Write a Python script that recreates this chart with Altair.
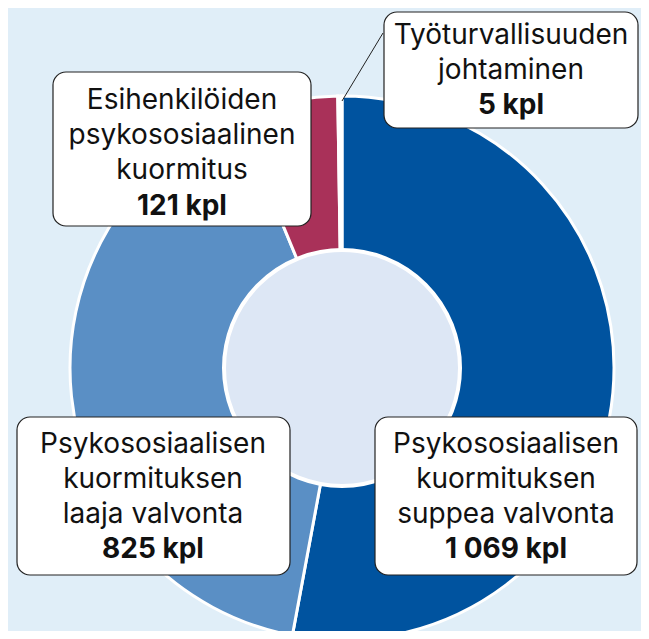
import altair as alt
import pandas as pd

# ---- data ----
categories = [
    "Psykososiaalisen kuormituksen suppea valvonta",
    "Psykososiaalisen kuormituksen laaja valvonta",
    "Esihenkilöiden psykososiaalinen kuormitus",
    "Työturvallisuuden johtaminen",
]
label_lines = [
    "Psykososiaalisen\nkuormituksen\nsuppea valvonta",
    "Psykososiaalisen\nkuormituksen\nlaaja valvonta",
    "Esihenkilöiden\npsykososiaalinen\nkuormitus",
    "Työturvallisuuden\njohtaminen",
]
values = [1069, 825, 121, 5]

# ---- styling / layout ----
colors = ["#00539f", "#5a8fc5", "#a93159", "#ffffff"]
BG = "#e0eef8"
HOLE = "#dde7f5"
OFF = 8  # page margin
CX, CY = 342, 368
R_OUT, R_IN = 272, 118
FONT = "Inter"
FS = 28

# label box layout (image pixel coords)
box_x0 = [375, 17, 53, 384]
box_x1 = [637, 290, 311, 638]
box_y0 = [417, 417, 72, 12]
box_y1 = [575, 575, 226, 128]
txt_x = [506, 153, 182, 511]
txt_y = [453, 453, 109, 44]
bold_y = [558, 558, 215, 114]


def fmt(v):
    return f"{v:,}".replace(",", " ") + " kpl"


df = pd.DataFrame({
    "cat": categories,
    "value": values,
    "order": list(range(len(values))),
    "color": colors,
})

lab = pd.DataFrame({
    "x0": [v - OFF for v in box_x0],
    "x1": [v - OFF for v in box_x1],
    "y0": [v - OFF for v in box_y0],
    "y1": [v - OFF for v in box_y1],
    "tx": [v - OFF for v in txt_x],
    "ty": [v - OFF for v in txt_y],
    "by": [v - OFF for v in bold_y],
    "text": label_lines,
    "bold": [fmt(v) for v in values],
})

leader = pd.DataFrame({"x": [383 - OFF], "y": [33 - OFF], "x2": [342 - OFF], "y2": [101 - OFF]})

arcs = alt.Chart(df).mark_arc(
    outerRadius=R_OUT, innerRadius=0, stroke="white", strokeWidth=3
).encode(
    theta=alt.Theta("value:Q", stack=True),
    order=alt.Order("order:Q"),
    color=alt.Color("color:N", scale=None),
    x=alt.value(CX - OFF),
    y=alt.value(CY - OFF),
)

hole = alt.Chart(pd.DataFrame({"a": [0]})).mark_arc(
    theta=0, theta2=6.2832, outerRadius=R_IN, innerRadius=0,
    fill=HOLE, stroke="white", strokeWidth=4,
).encode(x=alt.value(CX - OFF), y=alt.value(CY - OFF))

rule = alt.Chart(leader).mark_rule(color="#222222", strokeWidth=1).encode(
    x=alt.X("x:Q", scale=None), y=alt.Y("y:Q", scale=None),
    x2="x2:Q", y2="y2:Q",
)

boxes = alt.Chart(lab).mark_rect(
    fill="white", stroke="#222222", strokeWidth=1.2, cornerRadius=13
).encode(
    x=alt.X("x0:Q", scale=None), x2="x1:Q",
    y=alt.Y("y0:Q", scale=None), y2="y1:Q",
)

texts = alt.Chart(lab).mark_text(
    font=FONT, fontSize=FS, lineHeight=35, lineBreak="\n",
    align="center", baseline="alphabetic", color="#111111",
).encode(
    x=alt.X("tx:Q", scale=None), y=alt.Y("ty:Q", scale=None), text="text:N",
)

bolds = alt.Chart(lab).mark_text(
    font=FONT, fontSize=FS, fontWeight="bold",
    align="center", baseline="alphabetic", color="#111111",
).encode(
    x=alt.X("tx:Q", scale=None), y=alt.Y("by:Q", scale=None), text="bold:N",
)

chart = alt.layer(arcs, hole, rule, boxes, texts, bolds).properties(
    width=633, height=623, padding=0, autosize="none", background=BG,
).configure_view(stroke=None)

chart.save("out.html", embed_options={"renderer": "svg", "actions": False})
